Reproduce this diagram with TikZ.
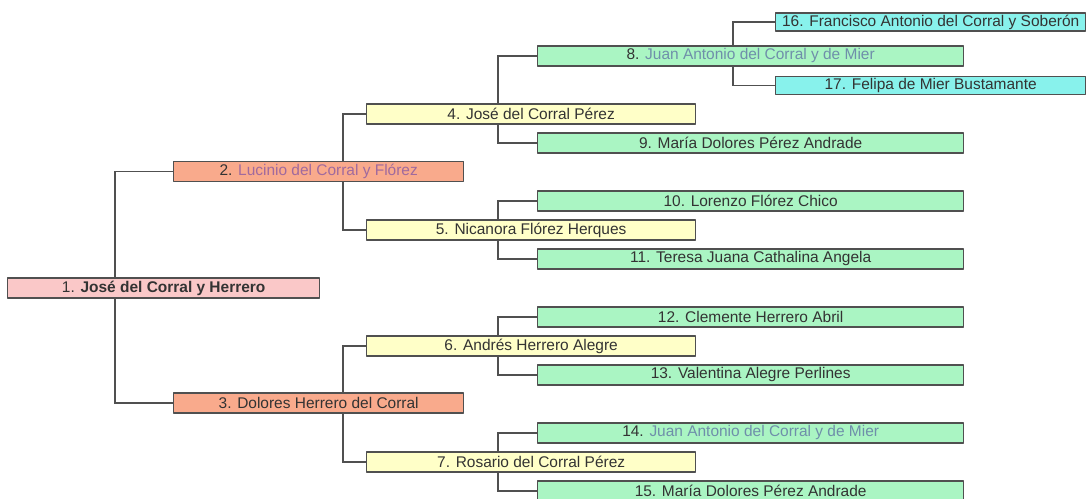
\documentclass[tikz,border=0pt]{standalone}
\usepackage{fontspec}
\setmainfont{Liberation Sans}
\usetikzlibrary{backgrounds}
\definecolor{rootpink}{HTML}{FAC8C8}
\definecolor{parentsalmon}{HTML}{F9AA8C}
\definecolor{grandyellow}{HTML}{FFFFC8}
\definecolor{greatgreen}{HTML}{AAF5C3}
\definecolor{gggcyan}{HTML}{88F2EC}
\definecolor{boxline}{HTML}{505050}
\definecolor{txt}{HTML}{333333}
\definecolor{linkblue}{HTML}{6F8FAA}
\definecolor{linkpurple}{HTML}{A06A9E}
\begin{document}
\begin{tikzpicture}[x=0.75pt,y=-0.75pt,line join=round,font=\fontsize{11.6}{13}\selectfont,text=txt,
	person/.style={draw=boxline,line width=1pt,anchor=west,minimum height=15pt,inner sep=0pt},
	gen1/.style={person,fill=rootpink,minimum width=234pt},
	gen2/.style={person,fill=parentsalmon,minimum width=217.5pt},
	gen3/.style={person,fill=grandyellow,minimum width=246.75pt},
	gen4/.style={person,fill=greatgreen,minimum width=319.5pt},
	gen5/.style={person,fill=gggcyan,minimum width=232.5pt,minimum height=13.5pt},
	link/.style={draw=boxline,line width=0.9pt}]
\useasboundingbox (0,0) rectangle (1090,499);
	\node[gen1] (p1) at (7,288) {1. \textbf{José del Corral y Herrero}};
	\node[gen2] (p2) at (173,171.5) {2. \textcolor{linkpurple}{Lucinio del Corral y Flórez}};
	\node[gen2] (p3) at (173,403) {3. Dolores Herrero del Corral};
	\node[gen3] (p4) at (366,114) {4. José del Corral Pérez};
	\node[gen3] (p5) at (366,230) {5. Nicanora Flórez Herques};
	\node[gen3] (p6) at (366,346) {6. Andrés Herrero Alegre};
	\node[gen3] (p7) at (366,462) {7. Rosario del Corral Pérez};
	\node[gen4] (p8) at (537,56) {8. \textcolor{linkblue}{Juan Antonio del Corral y de Mier}};
	\node[gen4] (p9) at (537,143) {9. María Dolores Pérez Andrade};
	\node[gen4] (p10) at (537,201) {10. Lorenzo Flórez Chico};
	\node[gen4] (p11) at (537,259) {11. Teresa Juana Cathalina Angela};
	\node[gen4] (p12) at (537,317) {12. Clemente Herrero Abril};
	\node[gen4] (p13) at (537,375) {13. Valentina Alegre Perlines};
	\node[gen4] (p14) at (537,433) {14. \textcolor{linkblue}{Juan Antonio del Corral y de Mier}};
	\node[gen4] (p15) at (537,491) {15. María Dolores Pérez Andrade};
	\node[gen5] (p16) at (775,22) {16. Francisco Antonio del Corral y Soberón};
	\node[gen5] (p17) at (775,85.5) {17. Felipa de Mier Bustamante};
	% junctions
	\coordinate (j1) at (115,288);
	\coordinate (j2) at (343,171.5);
	\coordinate (j3) at (343,403);
	\coordinate (j4) at (498,114);
	\coordinate (j5) at (498,230);
	\coordinate (j6) at (498,346);
	\coordinate (j7) at (498,462);
	\coordinate (j8) at (733,56);
\begin{scope}[on background layer]
	\draw[link] (p2.west) -| (j1) |- (p3.west);
	\draw[link] (p4.west) -| (j2) |- (p5.west);
	\draw[link] (p6.west) -| (j3) |- (p7.west);
	\draw[link] (p8.west) -| (j4) |- (p9.west);
	\draw[link] (p10.west) -| (j5) |- (p11.west);
	\draw[link] (p12.west) -| (j6) |- (p13.west);
	\draw[link] (p14.west) -| (j7) |- (p15.west);
	\draw[link] (p16.west) -| (j8) |- (p17.west);
\end{scope}
\end{tikzpicture}
\end{document}
